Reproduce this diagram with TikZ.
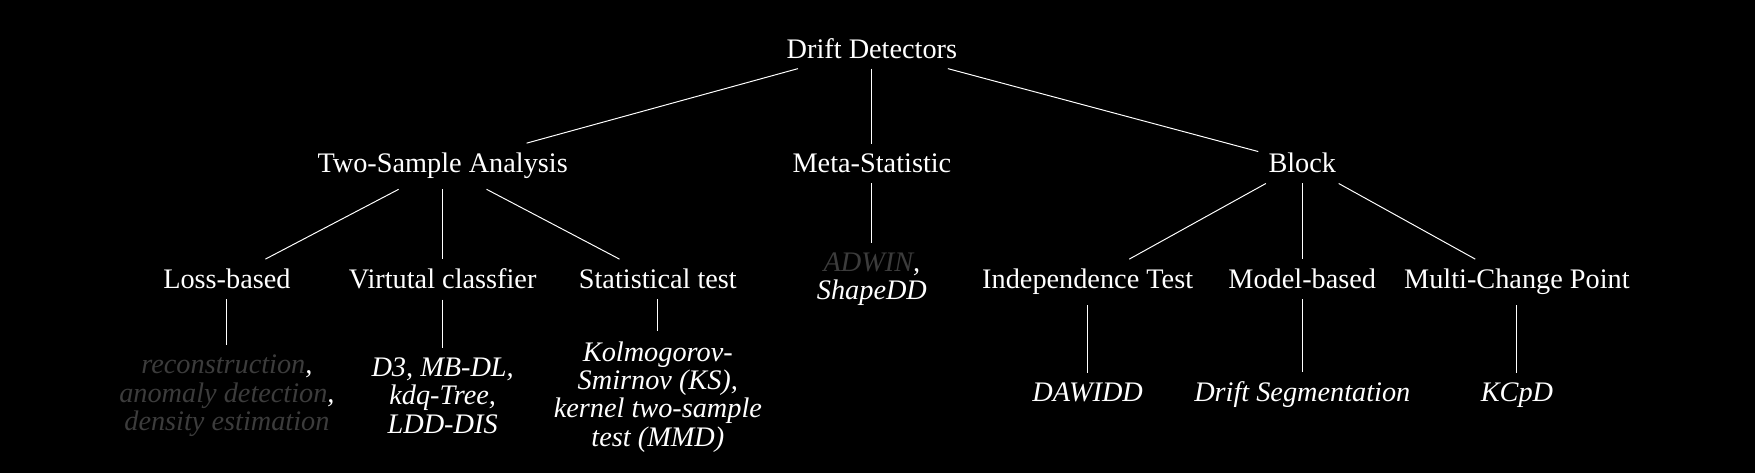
\documentclass[tikz,border=0pt]{standalone}
\usepackage{fontspec}
\setmainfont{Liberation Serif}
\definecolor{dimgray}{RGB}{60,60,60}
\tikzset{
  cat/.style={text=white, inner sep=5pt, anchor=base, font=\fontsize{14.4}{14.4}\selectfont},
  leaf/.style={text=white, inner sep=5pt, align=center, font=\fontsize{14.4}{14.4}\selectfont\itshape},
  branch/.style={draw=white, line width=0.5pt}
}
\begin{document}
\begin{tikzpicture}
    % Background and size
    \useasboundingbox (0,0) rectangle (31.4,-8.463);
    \fill[black] (0,0) rectangle (31.4,-8.463);
    % Root
    \node[cat] (dd) at (15.60,-1.04) {Drift Detectors};
    % First level
    \node[cat] (twosample) at (7.92,-3.095) {Two-Sample Analysis};
    \node[cat] (meta) at (15.60,-3.095) {Meta-Statistic};
    \node[cat] (block) at (23.30,-3.095) {Block};
    % Second level
    \node[cat] (loss) at (4.06,-5.17) {Loss-based};
    \node[cat] (virtual) at (7.92,-5.17) {Virtutal classfier};
    \node[cat] (stattest) at (11.77,-5.17) {Statistical test};
    \node[cat] (indep) at (19.46,-5.17) {Independence Test};
    \node[cat] (model) at (23.30,-5.17) {Model-based};
    \node[cat] (multi) at (27.14,-5.17) {Multi-Change Point};
    % Leaves
    \node[leaf] (metaleaf) at (15.60,-5.0) {\textcolor{dimgray}{ADWIN},\\ ShapeDD};
    \node[leaf] (lossleaf) at (4.06,-7.08) {\textcolor{dimgray}{reconstruction},\\ \textcolor{dimgray}{anomaly detection},\\ \textcolor{dimgray}{density estimation}};
    \node[leaf] (virtualleaf) at (7.92,-7.08) {D3, MB-DL,\\ kdq-Tree,\\ LDD-DIS};
    \node[leaf] (statleaf) at (11.77,-7.1) {Kolmogorov-\\ Smirnov (KS),\\ kernel two-sample\\ test (MMD)};
    \node[leaf, anchor=base] (indepleaf) at (19.46,-7.19) {DAWIDD};
    \node[leaf, anchor=base] (modelleaf) at (23.30,-7.19) {Drift Segmentation};
    \node[leaf, anchor=base] (multileaf) at (27.14,-7.19) {KCpD};
    % Connectors
    \foreach \a/\b in {dd/twosample, dd/meta, dd/block,
        twosample/loss, twosample/virtual, twosample/stattest,
        meta/metaleaf,
        block/indep, block/model, block/multi,
        loss/lossleaf, virtual/virtualleaf, stattest/statleaf,
        indep/indepleaf, model/modelleaf, multi/multileaf}
        \draw[branch] (\a) -- (\b);
\end{tikzpicture}
\end{document}
